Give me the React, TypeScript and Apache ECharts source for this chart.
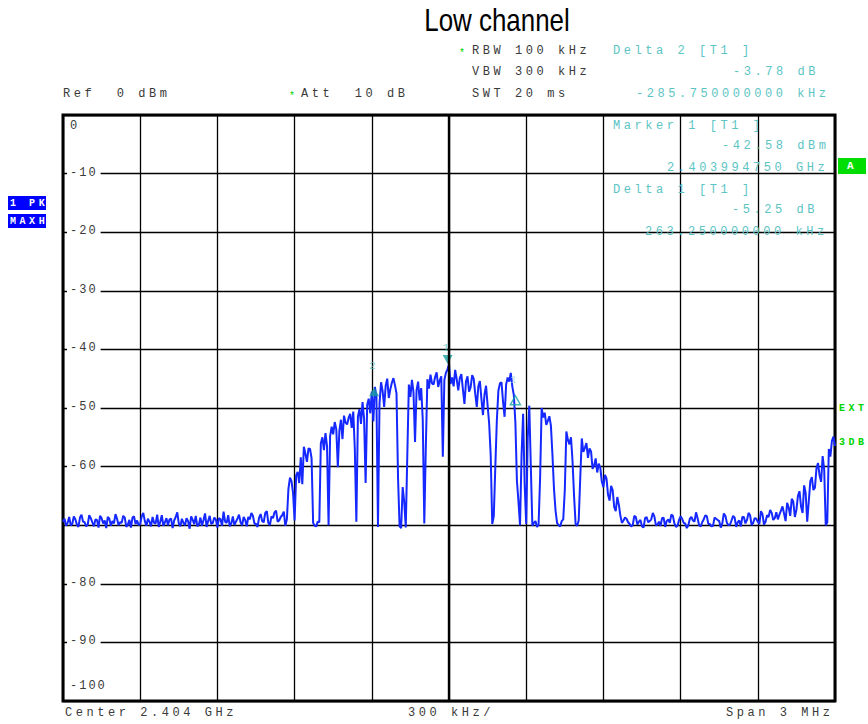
import React, { useEffect, useRef } from "react";
import * as echarts from "echarts";

// ---------- data ----------
const titleText = "Low channel";
const freqStartKHz = -1500; // 2.4025 GHz (center 2.404 GHz, span 3 MHz)
const freqEndKHz = 1500;
const freqStepKHz = 6; // 501 trace points
const freqDivKHz = 300;
const centerFreqKHz = 0;

// MAXH peak trace (dBm)
const noiseLeft = [
  -69.4, -68.9, -70.1, -69.6, -68.6, -70.0, -69.8, -68.5, -69.0, -69.9,
  -70.3, -68.7, -68.2, -69.4, -69.5, -70.2, -69.9, -68.3, -68.8, -69.5,
  -70.2, -69.0, -69.1, -70.4, -68.4, -68.8, -69.7, -69.2, -70.5, -68.6,
  -68.9, -70.1, -69.3, -69.7, -68.1, -68.9, -70.0, -69.5, -69.6, -68.4,
  -68.7, -70.3, -69.9, -69.1, -70.4, -68.7, -68.5, -69.8, -69.2, -70.0,
  -69.8, -68.5, -67.9, -69.3, -70.1, -68.9, -69.4, -70.2, -68.6, -69.6,
  -69.7, -68.2, -70.3, -69.4, -68.3, -70.1, -69.5, -68.8, -70.0, -69.0,
  -68.9, -70.5, -69.2, -68.6, -67.8, -69.7, -70.2, -68.9, -69.6, -70.0,
  -68.8, -69.3, -70.6, -68.5, -69.1, -69.8, -68.4, -70.2, -69.9, -68.7,
  -70.1, -69.1, -68.0, -70.3, -69.3, -68.4, -69.8, -69.6, -68.7, -69.0,
  -70.4, -68.8, -69.0, -70.1, -67.7, -69.4, -69.6, -68.3, -70.2, -69.7,
  -68.5, -70.0, -69.4, -68.9, -68.2, -69.5, -70.0, -68.6, -69.1, -70.2,
  -68.6, -69.0, -67.9, -68.4, -69.7, -69.8, -70.3, -68.7, -68.1, -69.3,
  -69.5, -67.9, -67.6, -69.6, -70.0, -68.5, -68.8, -67.8, -67.5, -69.4,
  -69.2, -68.6, -68.3, -67.7, -70.1, -69.0,
];
const signalBand = [
  -63.8, -61.9, -62.5, -64.5, -69.2, -61.5, -60.9, -62.8, -58.4, -63.0,
  -56.6, -57.8, -59.2, -56.9, -57.0, -58.6, -69.6, -70.1, -70.2, -69.4,
  -69.5, -56.0, -55.0, -57.2, -54.3, -56.5, -70.0, -54.8, -53.2, -54.5,
  -52.4, -53.6, -60.1, -53.9, -52.0, -55.3, -51.3, -52.5, -52.8, -51.7,
  -51.0, -53.4, -50.6, -57.0, -69.4, -51.5, -50.2, -52.7, -49.0, -51.8,
  -62.8, -49.5, -48.4, -50.9, -47.2, -52.3, -46.4, -48.0, -70.3, -49.2,
  -45.6, -47.1, -49.8, -46.2, -45.0, -48.3, -46.8, -45.7, -44.9, -46.1,
  -47.5, -62.0, -70.2, -70.5, -63.5, -66.0, -70.4, -58.0, -46.0, -48.1,
  -45.2, -47.3, -55.8, -46.9, -45.5, -48.7, -46.6, -52.0, -69.7, -56.5,
  -45.1, -46.7, -44.3, -45.8, -46.0, -44.7, -43.9, -46.4, -45.3, -44.6,
  -58.3, -45.2, -44.0, -43.4, -42.6, -45.9, -44.8, -46.3, -43.5, -45.1,
  -47.0, -44.9, -44.2, -46.8, -49.3, -45.5, -44.6, -47.2, -46.5, -44.4,
  -45.0, -47.6, -49.8, -46.3, -45.4, -48.4, -51.2, -47.7, -46.2, -49.5,
  -52.6, -58.0, -69.8, -68.5, -60.0, -52.0, -47.0, -45.8, -45.6, -48.9,
  -51.5, -46.0, -44.8, -45.5, -44.0, -46.3, -47.8, -52.5, -62.5, -66.0,
  -70.0, -58.0, -51.0, -63.0, -69.8, -55.0, -49.6, -60.0, -70.1, -69.6,
  -69.3, -70.3, -70.0, -62.0, -50.0, -51.6, -50.8, -52.9, -52.2, -51.4,
  -53.0, -58.0, -63.8, -67.5, -69.6, -70.0, -70.2, -69.3, -69.0, -64.0,
  -54.0, -55.4, -56.2, -55.0, -59.0, -65.0, -69.8, -70.1, -69.2, -62.0,
  -55.2, -57.5, -56.8, -56.0, -58.5, -56.9, -57.4, -60.4, -59.8, -58.6,
  -61.0, -59.5, -60.2, -62.6, -63.5, -61.4, -62.0, -64.8, -65.8, -63.3,
  -64.0, -66.9, -67.6, -65.2, -66.5, -68.4, -69.6,
];
const noiseRight = [
  -69.2, -68.7, -68.9, -69.5, -69.8, -70.2, -70.0, -68.4, -68.6, -69.9,
  -69.4, -69.1, -70.2, -70.4, -68.8, -68.6, -69.5, -69.3, -69.0, -67.9,
  -68.5, -70.0, -69.9, -69.4, -70.1, -68.8, -68.7, -70.3, -69.3, -69.0,
  -69.6, -68.2, -68.4, -69.7, -70.3, -70.1, -69.1, -68.5, -68.9, -69.6,
  -69.7, -70.5, -70.0, -68.9, -68.6, -69.2, -69.4, -67.8, -68.8, -70.0,
  -70.2, -69.5, -69.0, -68.3, -68.5, -69.8, -69.8, -70.2, -70.1, -68.7,
  -68.9, -69.1, -69.3, -70.4, -69.7, -68.0, -68.4, -69.6, -70.0, -69.9,
  -69.2, -68.4, -68.7, -70.3, -69.5, -69.2, -70.2, -68.6, -68.6, -69.7,
  -69.1, -67.9, -68.3, -70.0, -69.6, -68.8, -68.9, -69.4, -69.8, -67.6,
  -68.1, -69.9, -69.4, -68.3, -68.6, -67.4, -67.9, -69.1, -68.8, -67.8,
];
const rightEdge = [
  -69.0, -68.2, -67.5, -66.8, -68.0, -69.3, -66.2, -67.0, -68.4, -65.5,
  -66.0, -68.6, -67.4, -65.0, -64.2, -66.8, -67.9, -63.2, -64.5, -69.4,
  -66.0, -62.5, -61.8, -64.0, -63.6, -60.3, -59.4, -61.5, -62.6, -58.2,
  -60.5, -70.0, -69.5, -57.0, -58.3, -55.6, -54.9, -56.5,
];

const yMin = -100;
const yMax = 0;
const yStep = 10;
const hiddenTickLabel = -70; // covered by the trace in the original

// markers: Marker 1, Delta 2 and Delta 1 (relative to Marker 1)
const markerNames = ["1", "2", "1"];
const markerFreqKHz = [-5.25, -291.0, 258.0];
const markerLevels = [-42.58, -46.36, -47.83];

// text blocks
const headerSettings = ["RBW 100 kHz", "VBW 300 kHz", "SWT 20 ms"];
const headerRef = "Ref  0 dBm";
const headerAtt = "Att  10 dB";
const deltaTwoLines = ["Delta 2 [T1 ]", "-3.78 dB", "-285.750000000 kHz"];
const markerOneLines = ["Marker 1 [T1 ]", "-42.58 dBm", "2.403994750 GHz"];
const deltaOneLines = ["Delta 1 [T1 ]", "-5.25 dB", "263.250000000 kHz"];
const footerTexts = ["Center 2.404 GHz", "300 kHz/", "Span 3 MHz"];
const traceTags = ["1 PK", "MAXH"];
const sideTags = ["EXT", "3DB"];
const screenTag = "A";

// ---------- styles ----------
const DARK = "#3a3a3a";
const CYAN = "#5cc4c4";
const GREEN = "#00d400";
const BLUE = "#0000ff";
const TRACE = "#1428ff";
const MONO = "Liberation Mono";
const MONO_AXIS = "Liberation Mono, monospace";

const css = `
.spec text[style*="Liberation Mono"], .spec text[font-family*="Liberation Mono"] { letter-spacing: 3.55px; }
.spec text[style*="monospace"], .spec text[font-family*="monospace"] { letter-spacing: 2px; }
`;

function txt(text: string, x: number, y: number, fill: string, extra: any = {}) {
  return {
    type: "text",
    x,
    y,
    silent: true,
    z: 10,
    style: {
      text,
      fill,
      fontFamily: MONO,
      fontSize: 12,
      verticalAlign: "middle",
      align: "left",
      ...extra,
    },
  };
}

export default function App() {
  const ref = useRef<HTMLDivElement>(null);

  useEffect(() => {
    if (!ref.current) return;
    const chart = echarts.init(ref.current, undefined, { renderer: "svg" });

    const traceLevels = [...noiseLeft, ...signalBand, ...noiseRight, ...rightEdge];
    const traceData = traceLevels.map((v, i) => [freqStartKHz + i * freqStepKHz, v]);

    const markerData = markerNames.map((n, i) => {
      const isMain = i === 0;
      const isHollow = i === 2;
      return {
        value: [markerFreqKHz[i], markerLevels[i]],
        symbolRotate: isMain ? 180 : 0,
        symbolOffset: isMain ? [0, -5] : [0, 5],
        itemStyle: isHollow
          ? { color: "rgba(0,0,0,0)", borderColor: "#1aa5a5", borderWidth: 1.5 }
          : { color: "#1a9e9e" },
        label: {
          show: true,
          formatter: n,
          position: "top",
          distance: isMain ? 2 : isHollow ? 10 : 16,
          color: isHollow ? "#a8dede" : CYAN,
          fontFamily: MONO,
          fontSize: 11,
        },
      };
    });

    const graphics: any[] = [
      {
        type: "text",
        x: 497,
        y: 20,
        scaleX: 0.81,
        silent: true,
        style: {
          text: titleText,
          fill: "#000",
          fontFamily: "Liberation Sans",
          fontSize: 32,
          align: "center",
          verticalAlign: "middle",
        },
      },
      txt("*", 459, 53, GREEN, { fontSize: 10 }),
      txt(headerSettings[0], 472, 51, DARK),
      txt(headerSettings[1], 472, 72, DARK),
      txt(headerSettings[2], 472, 94, DARK),
      txt(headerRef, 63, 94, DARK),
      txt("*", 289, 96, GREEN, { fontSize: 10 }),
      txt(headerAtt, 301, 94, DARK),
      txt(deltaTwoLines[0], 613, 51, CYAN),
      txt(deltaTwoLines[1], 733, 72, CYAN),
      txt(deltaTwoLines[2], 636, 94, CYAN),
      txt(markerOneLines[0], 613, 126, CYAN),
      txt(markerOneLines[1], 722, 146, CYAN),
      txt(markerOneLines[2], 667, 168, CYAN),
      txt(deltaOneLines[0], 613, 190, CYAN),
      txt(deltaOneLines[1], 732, 210, CYAN),
      txt(deltaOneLines[2], 645, 232, CYAN),
      txt(footerTexts[0], 65, 713, DARK),
      txt(footerTexts[1], 408, 713, DARK),
      txt(footerTexts[2], 726, 713, DARK),
      { type: "rect", shape: { x: 8, y: 196, width: 38, height: 14 }, style: { fill: BLUE }, silent: true },
      { type: "rect", shape: { x: 8, y: 214, width: 38, height: 14 }, style: { fill: BLUE }, silent: true },
      txt(traceTags[0], 10, 203, "#fff", { fontSize: 10, fontWeight: "bold" }),
      txt(traceTags[1], 10, 221, "#fff", { fontSize: 10, fontWeight: "bold" }),
      { type: "rect", shape: { x: 838, y: 158, width: 28, height: 16 }, style: { fill: "#00dd00" }, silent: true },
      txt(screenTag, 852, 166, "#fff", { fontSize: 11, fontWeight: "bold", align: "center" }),
      txt(sideTags[0], 839, 408, GREEN, { fontSize: 10, fontWeight: "bold" }),
      txt(sideTags[1], 839, 442, GREEN, { fontSize: 10, fontWeight: "bold" }),
    ];

    const option: any = {
      animation: false,
      backgroundColor: "#fff",
      grid: {
        left: 63,
        top: 115,
        width: 772,
        height: 586,
        show: true,
        borderColor: "#000",
        borderWidth: 3,
        backgroundColor: "transparent",
        containLabel: false,
      },
      xAxis: {
        type: "value",
        min: freqStartKHz,
        max: freqEndKHz,
        interval: freqDivKHz,
        axisLine: { show: false },
        axisTick: { show: false },
        axisLabel: { show: false },
        splitLine: { show: true, lineStyle: { color: "#000", width: 1.3 } },
      },
      yAxis: {
        type: "value",
        min: yMin,
        max: yMax,
        interval: yStep,
        axisLine: { show: false },
        axisTick: { show: false },
        splitLine: { show: true, lineStyle: { color: "#000", width: 1.3 } },
        axisLabel: {
          show: true,
          inside: true,
          margin: 4,
          verticalAlign: "middle",
          fontFamily: MONO_AXIS,
          fontSize: 12,
          color: DARK,
          formatter: (v: number) => {
            if (v === hiddenTickLabel) return "";
            if (v === yMax) return "{t|" + v + "}";
            if (v === yMin) return "{b|" + v + "}";
            return "{m|" + v + "}";
          },
          rich: {
            t: { padding: [22, 0, 0, 3], fontFamily: MONO_AXIS, fontSize: 12, color: DARK },
            b: { padding: [0, 0, 30, 3], fontFamily: MONO_AXIS, fontSize: 12, color: DARK },
            m: {
              padding: [1, 9, 3, 3],
              backgroundColor: "#fff",
              fontFamily: MONO_AXIS,
              fontSize: 12,
              color: DARK,
            },
          },
        },
      },
      graphic: graphics,
      series: [
        {
          type: "line",
          data: [],
          z: 1,
          silent: true,
          markLine: {
            silent: true,
            symbol: ["none", "none"],
            label: { show: false },
            lineStyle: { color: "#000", width: 2.4, type: "solid" },
            data: [{ xAxis: centerFreqKHz }],
          },
        },
        {
          type: "line",
          data: traceData,
          z: 2,
          showSymbol: false,
          symbol: "none",
          silent: true,
          lineStyle: { color: TRACE, width: 2 },
        },
        {
          type: "scatter",
          data: markerData,
          z: 3,
          symbol: "triangle",
          symbolSize: [10, 9],
          silent: true,
        },
      ],
    };

    chart.setOption(option);
    return () => chart.dispose();
  }, []);

  return (
    <div>
      <style>{css}</style>
      <div
        ref={ref}
        className="spec"
        style={{ position: "absolute", left: 0, top: 0, width: 868, height: 724, background: "#fff" }}
      />
    </div>
  );
}
